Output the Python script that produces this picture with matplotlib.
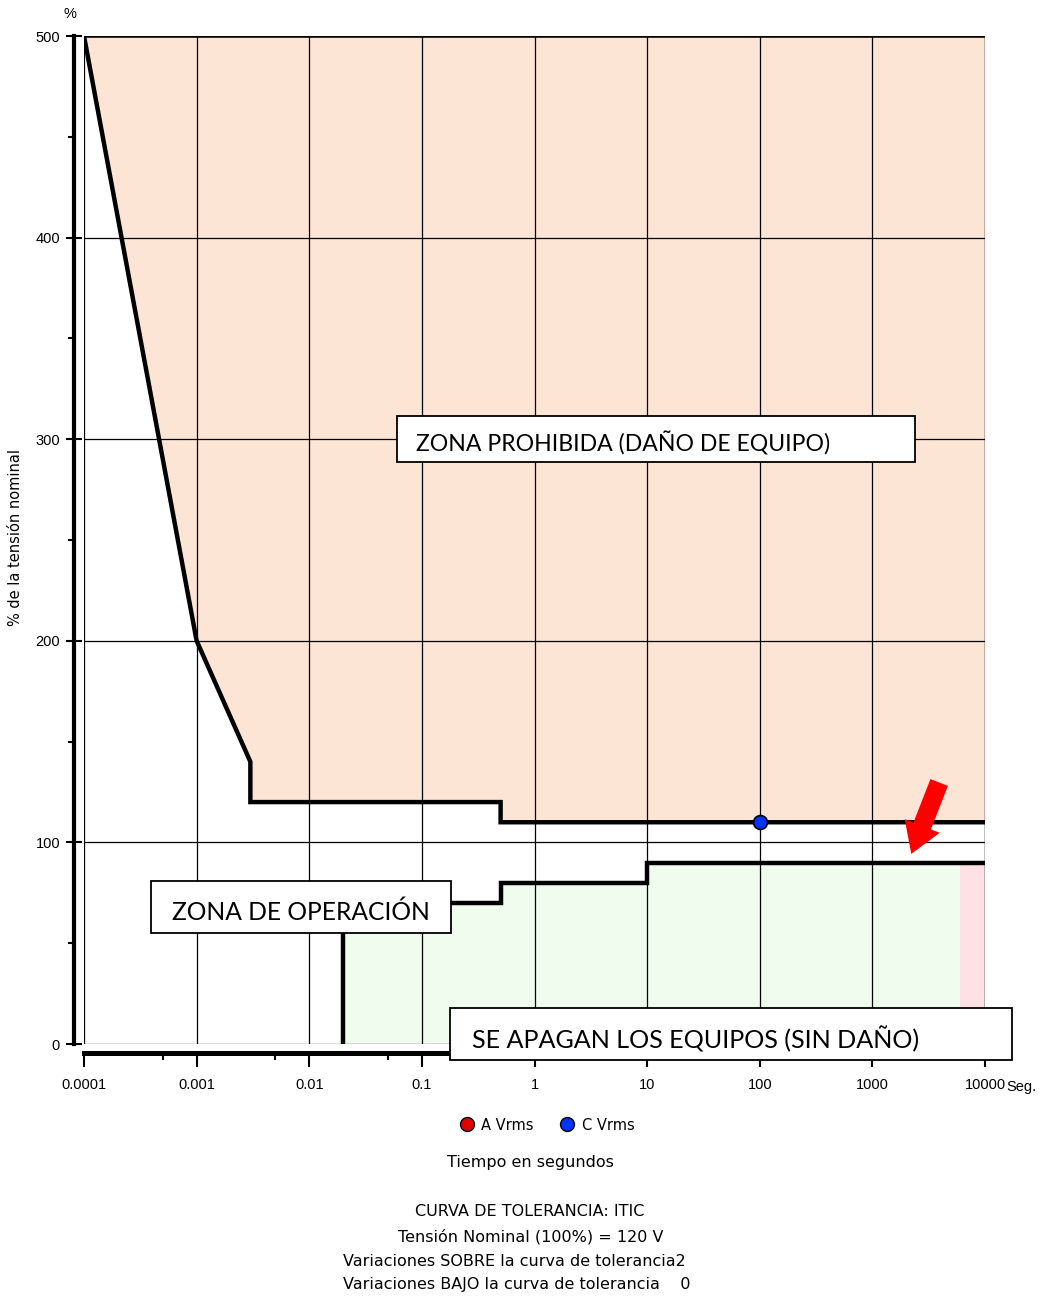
import matplotlib
matplotlib.use("Agg")
import matplotlib.pyplot as plt
from matplotlib.patches import Rectangle
from matplotlib.lines import Line2D
from matplotlib.ticker import FixedLocator, NullFormatter

# ---------------- data ----------------
upper_t = [0.0001, 0.001, 0.003, 0.003, 0.5, 0.5, 10000]
upper_v = [500, 200, 140, 120, 120, 110, 110]
lower_t = [0.02, 0.02, 0.5, 0.5, 10, 10, 10000]
lower_v = [0, 70, 70, 80, 80, 90, 90]
pink_t = [6000, 10000]
pink_v = [90, 90]
a_t, a_v = [], []          # A Vrms events (none visible)
c_t, c_v = [100], [110]    # C Vrms events
x_ticks = [0.0001, 0.001, 0.01, 0.1, 1, 10, 100, 1000, 10000]
x_labels = ["0.0001", "0.001", "0.01", "0.1", "1", "10", "100", "1000", "10000"]
x_minor = [0.0005, 0.005, 0.05, 0.5, 5, 50, 500, 5000]
y_ticks = [0, 100, 200, 300, 400, 500]
y_minor = [50, 150, 250, 350, 450]
arrow_tail = (4000, 131)
arrow_head = (2170, 93)

plt.rcParams['font.family'] = ['Liberation Sans', 'DejaVu Sans']
WIDE = ['DejaVu Sans']

W, H = 1042, 1298
fig = plt.figure(figsize=(W / 100, H / 100), dpi=100)

L, R, T, B = 84, 985, 36, 1044
ax = fig.add_axes([L / W, 1 - B / H, (R - L) / W, (B - T) / H])
ax.set_xscale('log')
ax.set_xlim(0.0001, 10000)
ax.set_ylim(0, 500)

peach = '#FDE5D6'
green = '#F0FCEE'
pink = '#FFE0E4'

ax.fill_between(upper_t, upper_v, 500, color=peach, lw=0, zorder=0.5)
ax.fill_between(lower_t, 0, lower_v, color=green, lw=0, zorder=0.5)
ax.fill_between(pink_t, 0, pink_v, color=pink, lw=0, zorder=0.6)

ax.plot(upper_t, upper_v, color='black', lw=3.2, zorder=3, solid_joinstyle='miter')
ax.plot(lower_t, lower_v, color='black', lw=3.2, zorder=3, solid_joinstyle='miter')
ax.plot(a_t, a_v, 'o', color='#E00000', mec='black', ms=10, zorder=4)
ax.plot(c_t, c_v, 'o', color='#0033FF', mec='black', mew=1.2, ms=10, zorder=4)

# grid
ax.xaxis.set_major_locator(FixedLocator(x_ticks))
ax.xaxis.set_minor_locator(FixedLocator(x_minor))
ax.xaxis.set_minor_formatter(NullFormatter())
ax.set_xticklabels(x_labels)
ax.yaxis.set_major_locator(FixedLocator(y_ticks))
ax.yaxis.set_minor_locator(FixedLocator(y_minor))
ax.grid(True, which='major', color='black', lw=0.9, zorder=1)
ax.set_axisbelow(False)
for gl in ax.get_xgridlines() + ax.get_ygridlines():
    gl.set_zorder(1)
ax.axhline(500, color='black', lw=1.8, zorder=2)
ax.axvline(10000, color='#555555', lw=1.0, zorder=2)

for s in ['top', 'right']:
    ax.spines[s].set_visible(False)
ax.spines['left'].set_position(('outward', 7.2))
ax.spines['left'].set_linewidth(3)
ax.spines['bottom'].set_position(('outward', 6.5))
ax.spines['bottom'].set_linewidth(3.6)

ax.tick_params(axis='x', which='major', direction='out', length=10, width=1.5,
               pad=8, labelsize=10.5)
ax.tick_params(axis='x', which='minor', direction='out', length=5, width=1.5)
ax.tick_params(axis='y', which='major', direction='inout', length=12, width=1.5,
               pad=4, labelsize=10.5)
ax.tick_params(axis='y', which='minor', direction='out', length=4, width=1.5)

# red arrow
ax.annotate('', xy=arrow_head, xytext=arrow_tail,
            arrowprops=dict(arrowstyle='simple,head_width=1.5,head_length=1.2,tail_width=0.75',
                            color='#FF0000', lw=0, mutation_scale=18),
            zorder=6)

def fx(px):
    return px / W

def fy(py):
    return 1 - py / H

# zone boxes
boxes = [
    (397, 416, 915, 462, 416, 441, 16.6, 'ZONA PROHIBIDA (DAÑO DE EQUIPO)'),
    (151, 881, 451, 933, 172, 910, 17.7, 'ZONA DE OPERACIÓN'),
    (450, 1008, 1012, 1060, 472, 1037, 18.1, 'SE APAGAN LOS EQUIPOS (SIN DAÑO)'),
]
for x0, y0, x1, y1, tx, ty, fs, txt in boxes:
    fig.patches.append(Rectangle((fx(x0), fy(y1)), (x1 - x0) / W, (y1 - y0) / H,
                                 transform=fig.transFigure, facecolor='white',
                                 edgecolor='black', lw=1.3, zorder=5))
    fig.text(fx(tx), fy(ty + 2), txt, ha='left', va='center',
             fontsize=fs, family=['Lato', 'DejaVu Sans'], zorder=6)

# texts
fig.text(fx(70), fy(14), '%', ha='center', va='center', fontsize=10.5)
fig.text(fx(1006), fy(1087), 'Seg.', ha='left', va='center', fontsize=10.5)
fig.text(fx(16), fy(538), '% de la tensión nominal', rotation=90,
         ha='center', va='center', fontsize=10.5, family=WIDE)

legend_handles = [
    Line2D([], [], marker='o', ls='none', color='#E00000', mec='black', ms=10, label='A Vrms'),
    Line2D([], [], marker='o', ls='none', color='#0033FF', mec='black', ms=10, label='C Vrms'),
]
fig.legend(handles=legend_handles, loc='center', bbox_to_anchor=(fx(547), fy(1125)),
           ncol=2, frameon=False, prop={'family': WIDE, 'size': 10.5},
           handletextpad=0.5, columnspacing=1.8, handlelength=1.0)

fs_b = 11.5
fig.text(fx(530), fy(1163), 'Tiempo en segundos', ha='center', va='center', fontsize=fs_b, family=WIDE)
fig.text(fx(530), fy(1212), 'CURVA DE TOLERANCIA: ITIC', ha='center', va='center', fontsize=fs_b, family=WIDE)
fig.text(fx(531), fy(1237), 'Tensión Nominal (100%) = 120 V', ha='center', va='center', fontsize=fs_b, family=WIDE)
fig.text(fx(343), fy(1261), 'Variaciones SOBRE la curva de tolerancia2', ha='left', va='center', fontsize=fs_b, family=WIDE)
fig.text(fx(343), fy(1285), 'Variaciones BAJO la curva de tolerancia    0', ha='left', va='center', fontsize=fs_b, family=WIDE)

fig.savefig('out.png', dpi=100)
